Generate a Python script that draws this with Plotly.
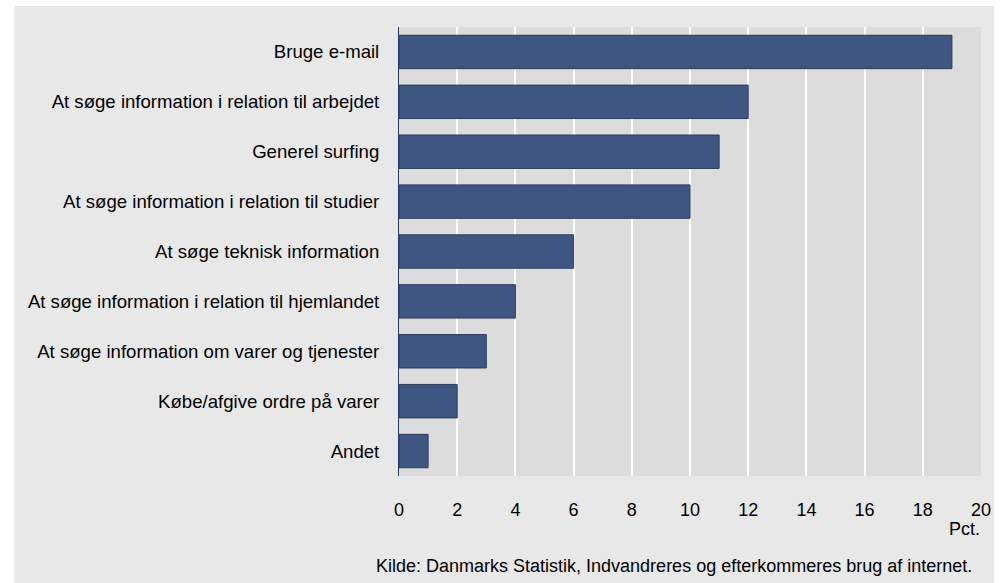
import plotly.graph_objects as go

categories = [
    "Bruge e-mail",
    "At søge information i relation til arbejdet",
    "Generel surfing",
    "At søge information i relation til studier",
    "At søge teknisk information",
    "At søge information i relation til hjemlandet",
    "At søge information om varer og tjenester",
    "Købe/afgive ordre på varer",
    "Andet",
]
values = [19, 12, 11, 10, 6, 4, 3, 2, 1]
x_ticks = [0, 2, 4, 6, 8, 10, 12, 14, 16, 18, 20]
unit_label = "Pct."
source_text = "Kilde: Danmarks Statistik, Indvandreres og efterkommeres brug af internet."

W, H = 1003, 583
L, R, T, B = 399, 20, 27, 107
pw = W - L - R
ph = H - T - B

def px_x(x):
    return (x - L) / pw

def px_y(y):
    return (H - B - y) / ph

FONT = "Liberation Sans, Arial, sans-serif"

fig = go.Figure()
fig.add_trace(go.Bar(
    x=values,
    y=categories,
    orientation="h",
    marker=dict(color="#3f5683", line=dict(color="#2c3b5c", width=1)),
    hoverinfo="x+y",
))

# outer light-gray chart panel
fig.add_shape(type="rect", xref="paper", yref="paper",
              x0=px_x(13), x1=px_x(996), y0=px_y(590), y1=px_y(6),
              fillcolor="#e8e8e8", line=dict(width=0), layer="below")
# plot-area background (darker gray)
fig.add_shape(type="rect", xref="paper", yref="paper",
              x0=0, x1=1, y0=0, y1=1,
              fillcolor="#dcdcdc", line=dict(width=0), layer="below")

fig.add_annotation(text=unit_label, xref="paper", yref="paper",
                   x=px_x(984), y=px_y(529), xanchor="right", yanchor="middle",
                   showarrow=False, font=dict(size=18, color="#000", family=FONT))
fig.add_annotation(text=source_text, xref="paper", yref="paper",
                   x=px_x(976), y=px_y(566), xanchor="right", yanchor="middle",
                   showarrow=False, font=dict(size=18, color="#000", family=FONT))

fig.update_layout(
    width=W, height=H,
    margin=dict(l=L, r=R, t=T, b=B, pad=0),
    paper_bgcolor="#ffffff",
    plot_bgcolor="#dcdcdc",
    font=dict(family=FONT, size=18, color="#000"),
    bargap=0.33,
    showlegend=False,
    xaxis=dict(range=[0, 20], tickvals=x_ticks, showgrid=True, gridcolor="#ffffff",
               gridwidth=2, zeroline=False, showline=False, ticks="",
               ticklabelstandoff=21, tickfont=dict(size=18), fixedrange=True),
    yaxis=dict(categoryorder="array", categoryarray=categories[::-1],
               showgrid=False, zeroline=False, showline=True, linecolor="#2c3b5c",
               linewidth=1, ticks="", ticklabelstandoff=15,
               tickfont=dict(size=18.6), fixedrange=True),
)

fig.write_html("out.html", config={"displayModeBar": False},
               post_script="document.body.style.margin='0';")
